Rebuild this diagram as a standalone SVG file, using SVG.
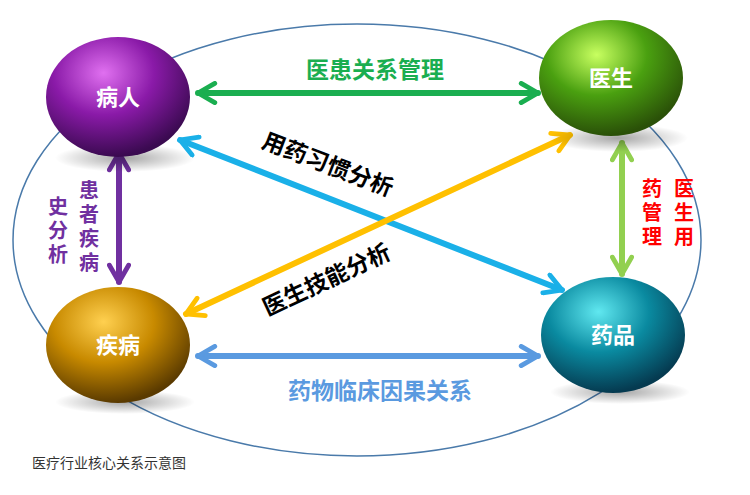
<svg xmlns="http://www.w3.org/2000/svg" width="750" height="495" viewBox="0 0 750 495">
<style>
text{font-family:"Noto Sans CJK SC","Noto Sans",sans-serif;font-weight:bold}
.n{fill:#fff;font-size:22px}
.a{fill:none;stroke-width:6;stroke-linecap:round}
.v{writing-mode:vertical-rl;font-size:20px;letter-spacing:4px}
</style>
<defs>
<radialGradient id="gP" cx="0.4" cy="0.3" r="0.7"><stop offset="0" stop-color="#e070f0"/><stop offset="0.5" stop-color="#8a1aa8"/><stop offset="1" stop-color="#3a0a50"/></radialGradient>
<radialGradient id="gG" cx="0.4" cy="0.3" r="0.7"><stop offset="0" stop-color="#c8ff60"/><stop offset="0.5" stop-color="#4aa010"/><stop offset="1" stop-color="#2a5008"/></radialGradient>
<radialGradient id="gO" cx="0.4" cy="0.3" r="0.7"><stop offset="0" stop-color="#ffd050"/><stop offset="0.5" stop-color="#c88a00"/><stop offset="1" stop-color="#5a3a00"/></radialGradient>
<radialGradient id="gT" cx="0.4" cy="0.3" r="0.7"><stop offset="0" stop-color="#60e8f0"/><stop offset="0.5" stop-color="#0a8aa0"/><stop offset="1" stop-color="#053a50"/></radialGradient>
<radialGradient id="sh" cx="0.5" cy="0.5" r="0.5"><stop offset="0" stop-color="#000" stop-opacity="0.35"/><stop offset="1" stop-color="#000" stop-opacity="0"/></radialGradient>
<marker id="m1" viewBox="0 0 10 10" refX="9" refY="5" markerWidth="4" markerHeight="4" orient="auto-start-reverse" markerUnits="strokeWidth"><path d="M2,1 L9,5 L2,9" fill="none" stroke="context-stroke" stroke-width="2" stroke-linecap="round"/></marker>
</defs>
<ellipse cx="357" cy="240" rx="344" ry="216" fill="none" stroke="#4a7aaa" stroke-width="1.5"/>
<g id="connectors">
<line class="a" x1="198" y1="93" x2="538" y2="93" stroke="#1aae50" marker-start="url(#m1)" marker-end="url(#m1)"/>
<line class="a" x1="198" y1="356" x2="538" y2="356" stroke="#5a9ae0" marker-start="url(#m1)" marker-end="url(#m1)"/>
<line class="a" x1="119" y1="153" x2="119" y2="282" stroke="#7030a0" marker-start="url(#m1)" marker-end="url(#m1)"/>
<line class="a" x1="622" y1="143" x2="622" y2="274" stroke="#92d050" marker-start="url(#m1)" marker-end="url(#m1)"/>
<line class="a" x1="180" y1="140" x2="562" y2="290" stroke="#1ab0e8" marker-start="url(#m1)" marker-end="url(#m1)"/>
<line class="a" x1="186" y1="314" x2="570" y2="135" stroke="#ffc000" marker-start="url(#m1)" marker-end="url(#m1)"/>
<text x="375" y="78" font-size="23" fill="#1aae50" text-anchor="middle">医患关系管理</text>
<text x="380" y="399" font-size="23" fill="#5a9ae0" text-anchor="middle">药物临床因果关系</text>
<text transform="translate(325,172) rotate(21)" font-size="23" fill="#000" text-anchor="middle">用药习惯分析</text>
<text transform="translate(330,287) rotate(-25)" font-size="23" fill="#000" text-anchor="middle">医生技能分析</text>
<text class="v" x="89" y="180" fill="#7030a0">患者疾病</text>
<text class="v" x="58" y="196" fill="#7030a0">史分析</text>
<text class="v" x="684" y="178" fill="#ff0000">医生用</text>
<text class="v" x="652" y="178" fill="#ff0000">药管理</text>
</g>
<g id="n1"><ellipse cx="125" cy="158" rx="70" ry="14" fill="url(#sh)"/><ellipse cx="118" cy="97" rx="72" ry="60" fill="url(#gP)"/><text class="n" x="118" y="105" text-anchor="middle">病人</text></g>
<g id="n2"><ellipse cx="618" cy="138" rx="70" ry="14" fill="url(#sh)"/><ellipse cx="611" cy="78" rx="72" ry="58" fill="url(#gG)"/><text class="n" x="611" y="86" text-anchor="middle">医生</text></g>
<g id="n3"><ellipse cx="125" cy="402" rx="70" ry="12" fill="url(#sh)"/><ellipse cx="118" cy="345" rx="72" ry="58" fill="url(#gO)"/><text class="n" x="118" y="353" text-anchor="middle">疾病</text></g>
<g id="n4"><ellipse cx="620" cy="392" rx="70" ry="12" fill="url(#sh)"/><ellipse cx="613" cy="335" rx="72" ry="58" fill="url(#gT)"/><text class="n" x="613" y="343" text-anchor="middle">药品</text></g>
<text x="32" y="468" font-size="14" fill="#333" style="font-weight:normal">医疗行业核心关系示意图</text>
</svg>
